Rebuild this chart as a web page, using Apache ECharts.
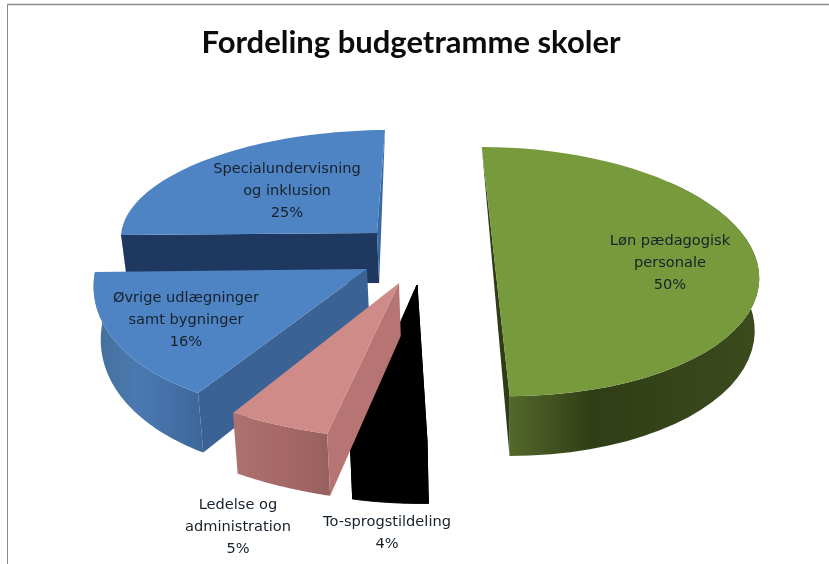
<!DOCTYPE html>
<html>
<head>
<meta charset="utf-8">
<style>html,body{margin:0;padding:0;background:#fff}#c{width:829px;height:564px}</style>
<script src="https://cdn.jsdelivr.net/npm/echarts@6/dist/echarts.min.js"></script>
</head>
<body>
<div id="c"></div>
<script>
// Data
const categories = ['Løn pædagogisk\npersonale', 'To-sprogstildeling', 'Ledelse og\nadministration', 'Øvrige udlægninger\nsamt bygninger', 'Specialundervisning\nog inklusion'];
const percentValues = [50, 4, 5, 16, 25];

// Layout: every slice has its own perspective frame (apex, axes, foreshortening)
const frames = [
  {o:[493,247], a:[258,0],  b:[83.7,-71.1], q:0.197, z:1, label:[670,263]},
  {o:[417,285], a:[308,-3], b:[-10,-156],   q:0,     z:4, label:[387,533]},
  {o:[399,283], a:[324,5],  b:[-9,-157],    q:0,     z:5, label:[238,527]},
  {o:[367,269], a:[272,-3], b:[27.5,-145],  q:0,     z:3, label:[186,320]},
  {o:[377,233], a:[256,-2], b:[8,-103],     q:0,     z:2, label:[287,191]}
];
// cuts: which flat cut faces show. 'start'/'end' = quad on that edge; 'chord' / 'endSliver' = thin faces
const styles = [
  {top:'#779A3D', cutA:'#2F3C15', cutB:'#2F3C15', cuts:['chord'], rimFrom:0.3, rim:[[0,'#566A2B'],[0.35,'#303D17'],[1,'#3B4B1D']], rx:[505,755]},
  {top:'#000000', cutA:'#000000', cutB:'#000000', cuts:['start','end'], seal:true, rimFrom:0, rim:[[0,'#000000'],[1,'#000000']], rx:[350,430]},
  {top:'#CF8B88', cutA:'#B67573', cutB:'#B67573', cuts:['start'], rimFrom:0, rim:[[0,'#AD716F'],[0.6,'#A56765'],[1,'#96605E']], rx:[233,330]},
  {top:'#4F84C4', cutA:'#3A6294', cutB:'#3A6294', cuts:['start'], rimFrom:0, rim:[[0,'#447099'],[0.4,'#4A79B2'],[1,'#3C6699']], rx:[95,205]},
  {top:'#4F84C4', cutA:'#1F3860', cutB:'#3A68A3', cuts:['start','endSliver'], noRim:true, rimFrom:0, rim:[[0,'#1F3860'],[1,'#1F3860']], rx:[120,385]}
];

const total = percentValues.reduce((s, v) => s + v, 0);
let acc = 0;
const sweeps = percentValues.map(v => { const s = [acc, acc + v]; acc += v; return s; });
const rad = share => share / total * Math.PI * 2;

function project(f, u, v) {
  const w = 1 + f.q * v;
  return [(f.o[0] + u * f.a[0] + v * f.b[0]) / w, (f.o[1] + u * f.a[1] + v * f.b[1]) / w];
}
function drop(p) { // bottom face of the disc: deeper when nearer to the viewer
  return [p[0] + (500 - p[0]) * 0.0175, p[1] + 36 + 0.06 * p[1]];
}
function arcPts(f, start, end) {
  const n = 48, pts = [];
  for (let i = 0; i <= n; i++) {
    const t = rad(start + (end - start) * i / n);
    pts.push(project(f, Math.sin(t), Math.cos(t)));
  }
  return pts;
}
function poly(points, fill, z2, seal) {
  return {type:'polygon', shape:{points}, style:seal ? {fill, stroke:fill, lineWidth:1} : {fill, stroke:null}, z2, silent:true};
}

function renderSlice(params) {
  const i = params.dataIndex, f = frames[i], st = styles[i], sw = sweeps[i];
  const arc = arcPts(f, sw[0], sw[1]);
  const apex = project(f, 0, 0);
  const base = f.z * 10, kids = [];
  const first = arc[0], last = arc[arc.length - 1];
  if (!st.noRim) {
    const rimFill = new echarts.graphic.LinearGradient(st.rx[0], 0, st.rx[1], 0,
      st.rim.map(s => ({offset:s[0], color:s[1]})), true);
    const rimArc = arc.slice(Math.round(st.rimFrom * (arc.length - 1)));
    kids.push(poly(rimArc.concat(rimArc.map(drop).reverse()), st.seal ? st.top : rimFill, base, st.seal));
  }
  st.cuts.forEach((c, k) => {
    let pts;
    if (c === 'start') pts = [apex, first, drop(first), drop(apex)];
    if (c === 'end') pts = [apex, last, drop(last), drop(apex)];
    if (c === 'chord') pts = [first, last, drop(last)];
    if (c === 'endSliver') pts = [apex, last, drop(apex)];
    kids.push(poly(pts, c === 'start' || c === 'chord' ? st.cutA : st.cutB, base + 1 + k, st.seal));
  });
  kids.push(poly([apex].concat(arc), st.top, base + 5, st.seal));
  kids.push({type:'text', z2:100, silent:true, style:{
    x:f.label[0], y:f.label[1], text:categories[i] + '\n' + percentValues[i] + '%',
    align:'center', verticalAlign:'middle',
    font:'14.6px "DejaVu Sans"', lineHeight:22, fill:'#16212b'
  }});
  return {type:'group', children:kids};
}

const chart = echarts.init(document.getElementById('c'), null, {renderer:'canvas'});
chart.setOption({
  animation:false,
  backgroundColor:'#ffffff',
  title:{text:'Fordeling budgetramme skoler', left:406, top:22, textAlign:'center',
    textStyle:{fontFamily:'Lato', fontWeight:'bold', fontSize:31, color:'#0c0c0c'}},
  graphic:[
    {type:'line', shape:{x1:7.5,y1:4,x2:7.5,y2:564}, style:{stroke:'#8c8c8c',lineWidth:1}, silent:true},
    {type:'line', shape:{x1:7,y1:4.5,x2:829,y2:4.5}, style:{stroke:'#8c8c8c',lineWidth:1.5}, silent:true}
  ],
  series:[{type:'custom', coordinateSystem:'none', silent:true,
    data:percentValues.map((v, i) => ({name:categories[i], value:v})),
    renderItem:renderSlice}]
});
</script>
</body>
</html>
